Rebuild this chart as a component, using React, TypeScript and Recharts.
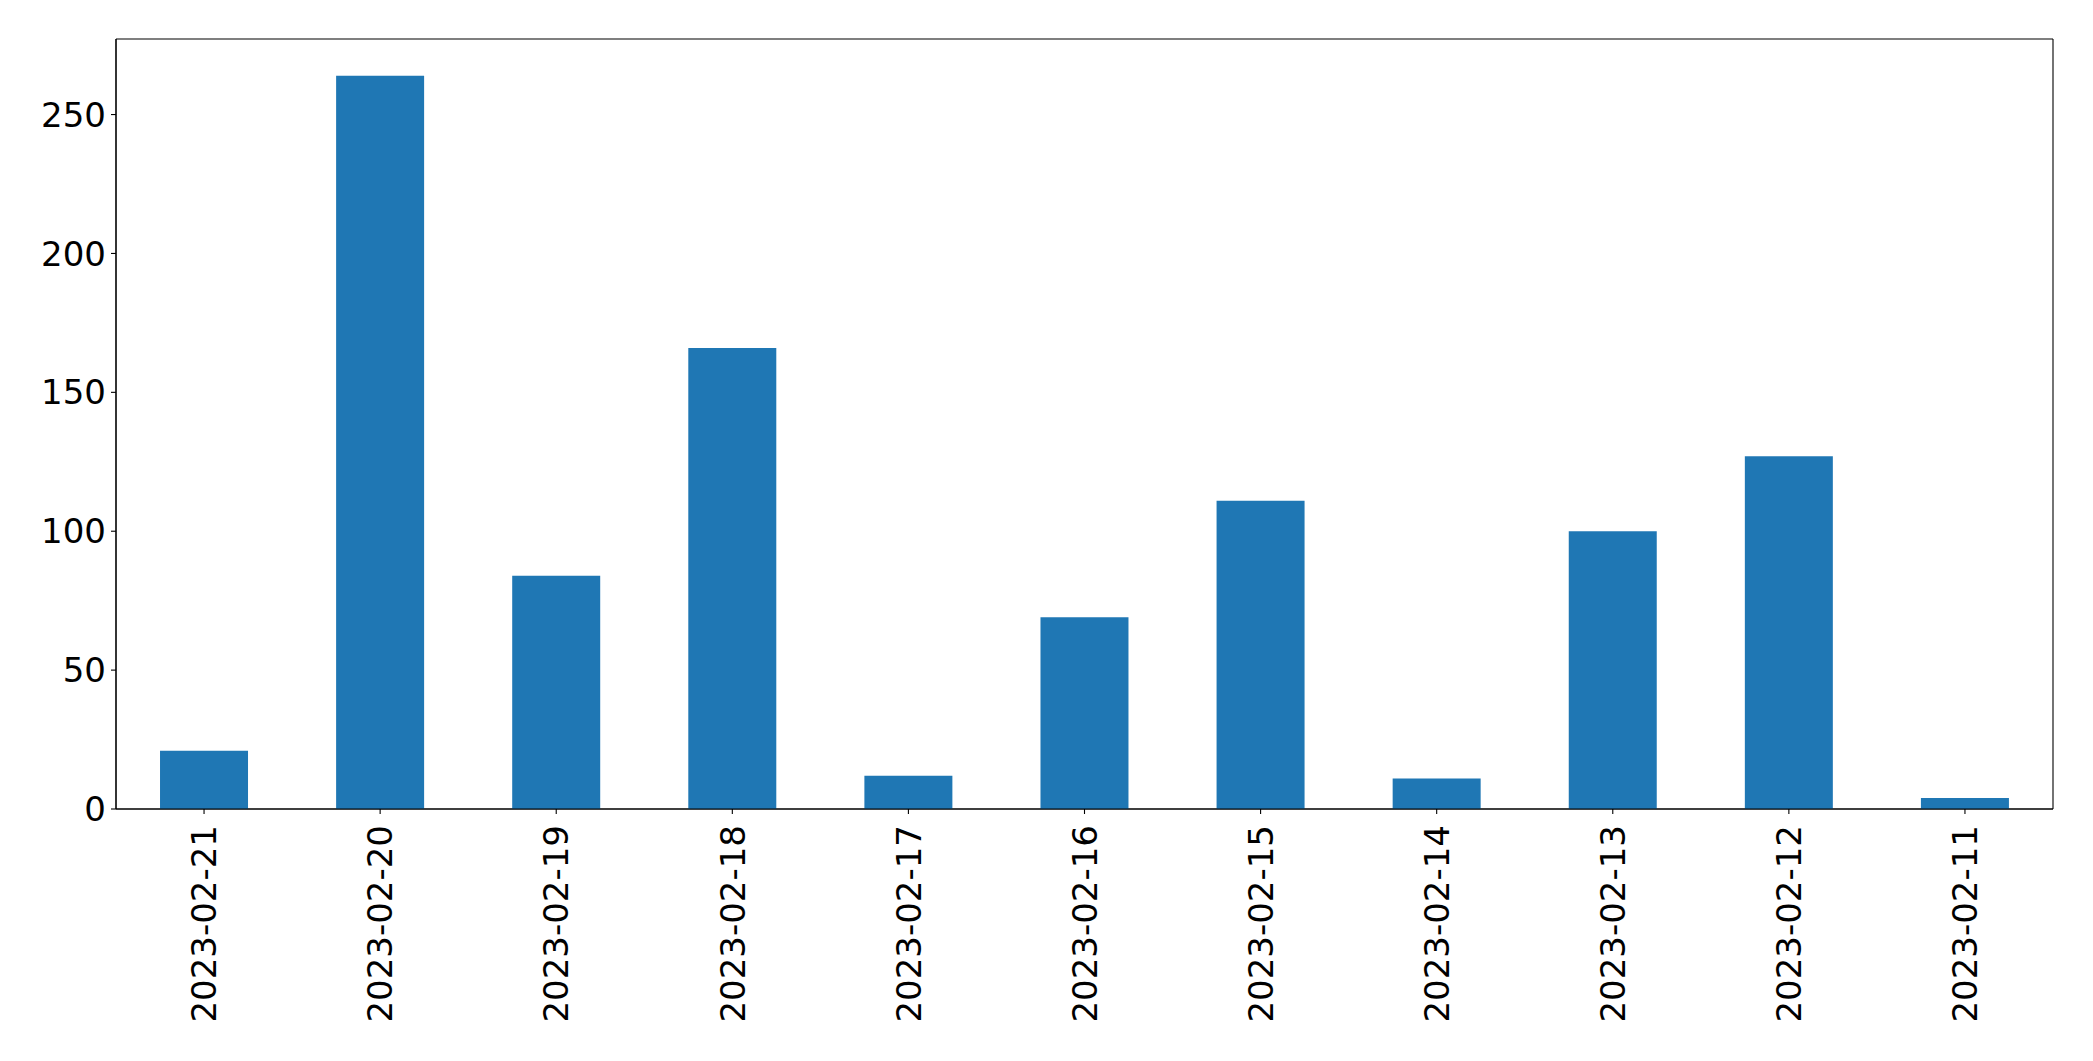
import { BarChart, Bar, XAxis, YAxis, CartesianGrid } from "recharts";

const dates = [
  "2023-02-21",
  "2023-02-20",
  "2023-02-19",
  "2023-02-18",
  "2023-02-17",
  "2023-02-16",
  "2023-02-15",
  "2023-02-14",
  "2023-02-13",
  "2023-02-12",
  "2023-02-11",
];
const counts = [21, 264, 84, 166, 12, 69, 111, 11, 100, 127, 4];
const yTicks = [0, 50, 100, 150, 200, 250];

const chartData = dates.map((date, i) => ({ date, count: counts[i] }));

const FONT = "'DejaVu Sans', sans-serif";

// rotated date labels, reading bottom to top, ending just under the tick
const DateTick = (props: any) => {
  const { x, y, payload } = props;
  return (
    <g transform={`translate(${x},${y})`}>
      <text
        transform="rotate(-90)"
        x={-9}
        y={0}
        dy="0.36em"
        textAnchor="end"
        fill="#000"
        fontSize={34}
        fontFamily={FONT}
      >
        {payload.value}
      </text>
    </g>
  );
};

const App = () => {
  return (
    <div style={{ position: "absolute", left: 0, top: 0, background: "#fff" }}>
      <BarChart
        width={2093}
        height={1061}
        data={chartData}
        margin={{ top: 39, right: 40, left: 0, bottom: 0 }}
        barCategoryGap="25%"
      >
        {/* box frame around the plot area */}
        <CartesianGrid
          stroke="#000"
          strokeWidth={1.1}
          horizontalCoordinatesGenerator={({ offset }: any) => [offset.top, offset.top + offset.height]}
          verticalCoordinatesGenerator={({ offset }: any) => [offset.left, offset.left + offset.width]}
        />
        <XAxis
          dataKey="date"
          height={252}
          interval={0}
          tick={<DateTick />}
          tickSize={5}
          tickLine={{ stroke: "#000", strokeWidth: 1.1 }}
          axisLine={{ stroke: "#000", strokeWidth: 1.1 }}
        />
        <YAxis
          width={116}
          domain={[0, 277.2]}
          ticks={yTicks}
          tickSize={5}
          tickMargin={5}
          tick={{ fontSize: 34, fill: "#000", fontFamily: FONT }}
          tickLine={{ stroke: "#000", strokeWidth: 1.1 }}
          axisLine={{ stroke: "#000", strokeWidth: 1.1 }}
        />
        <Bar dataKey="count" fill="#1f77b4" isAnimationActive={false} />
      </BarChart>
    </div>
  );
};

export default App;
